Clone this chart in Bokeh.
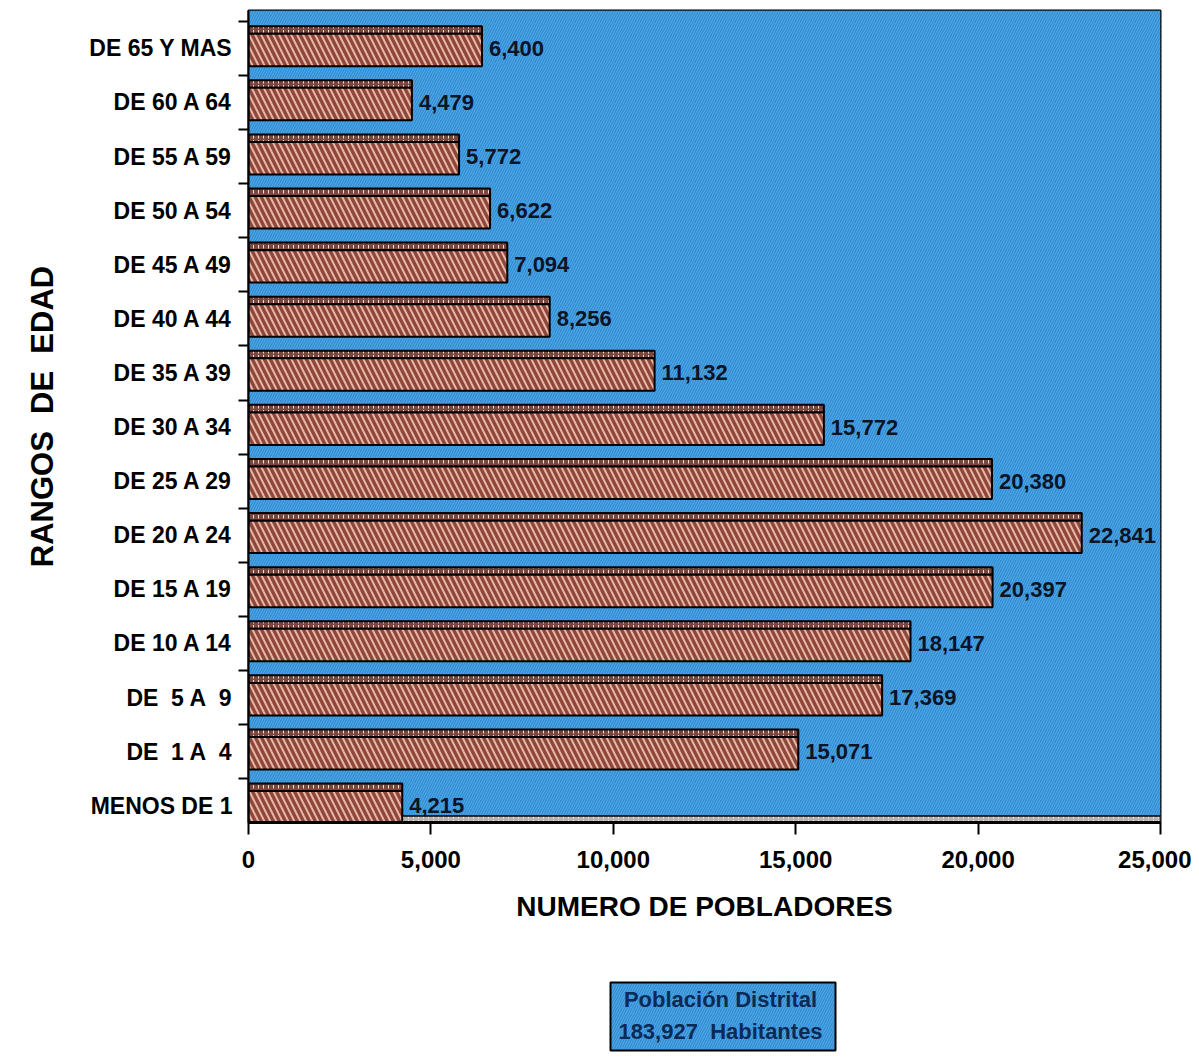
from bokeh.plotting import figure
from bokeh.layouts import column
from bokeh.models import FixedTicker, NumeralTickFormatter, ColumnDataSource
from bokeh.core.properties import value
from bokeh.embed import file_html
from bokeh.resources import INLINE

NB = "\u00a0"
# ---- data (bottom to top) ----
categories = ["MENOS DE 1", f"DE{NB}{NB}1 A{NB}{NB}4", f"DE{NB}{NB}5 A{NB}{NB}9",
              "DE 10 A 14", "DE 15 A 19", "DE 20 A 24", "DE 25 A 29", "DE 30 A 34",
              "DE 35 A 39", "DE 40 A 44", "DE 45 A 49", "DE 50 A 54", "DE 55 A 59",
              "DE 60 A 64", "DE 65 Y MAS"]
pobladores = [4215, 15071, 17369, 18147, 20397, 22841, 20380, 15772, 11132, 8256,
              7094, 6622, 5772, 4479, 6400]
x_ticks = [0, 5000, 10000, 15000, 20000, 25000]
legend_line1 = "Población Distrital"
legend_line2 = f"183,927{NB}{NB}Habitantes"

FONT = "Liberation Sans"
BLUE = "#2f8ed6"
pos = list(range(len(categories)))
labels = [f"{v:,}" for v in pobladores]

src = ColumnDataSource(dict(
    y=pos, v=pobladores, lab=labels,
    body_b=[i - 0.33 for i in pos], body_t=[i + 0.27 for i in pos],
    top_t=[i + 0.41 for i in pos],
))

W = 1191
H_MAIN = 965
H_LEG = 88
FR_L, FR_R, FR_T, FR_B = 248, 1160, 10, 822

p = figure(width=W, height=H_MAIN, output_backend="svg", toolbar_location=None,
           x_range=(0, 25000), y_range=(-0.31, 14.70),
           min_border_left=FR_L, min_border_right=W - FR_R, min_border_top=FR_T,
           min_border_bottom=H_MAIN - FR_B)
p.background_fill_color = BLUE
p.border_fill_color = "white"
p.outline_line_color = "black"
p.outline_line_width = 2
p.grid.visible = False

# hatched blue background texture
p.quad(left=[0], right=[25000], bottom=[-0.31], top=[14.70],
       fill_color=BLUE, line_color=None,
       hatch_pattern="/", hatch_color="#8ccaf2", hatch_alpha=0.45,
       hatch_scale=5, hatch_weight=1)
# 3D floor strip
p.quad(left=[0], right=[25000], bottom=[-0.31], top=[-0.19],
       fill_color="#b9b0b0", line_color="black", line_width=1.5,
       hatch_pattern=":", hatch_color="white", hatch_alpha=0.8, hatch_scale=5)

# 3D top strip of bars
p.quad(left=0, right="v", bottom="body_t", top="top_t", source=src,
       fill_color="#7a463d", line_color="black", line_width=2,
       hatch_pattern=":", hatch_color="#f6e6de", hatch_alpha=0.95, hatch_scale=5)
# bar body
p.quad(left=0, right="v", bottom="body_b", top="body_t", source=src,
       fill_color="#8f463b", line_color="black", line_width=2,
       hatch_pattern="\\", hatch_color="#ecbcab", hatch_alpha=0.95,
       hatch_scale=12, hatch_weight=2)

# value labels
p.text(x="v", y="y", text="lab", source=src, x_offset=7,
       text_font=value(FONT), text_font_size="22px", text_color="#0c1426",
       text_font_style="bold", text_baseline="middle", text_align="left")

# axes
p.xaxis.ticker = FixedTicker(ticks=x_ticks)
p.xaxis.formatter = NumeralTickFormatter(format="0,0")
p.xaxis.major_label_text_font = FONT
p.xaxis.major_label_text_font_style = "bold"
p.xaxis.major_label_text_font_size = "24px"
p.xaxis.major_label_text_color = "black"
p.xaxis.major_label_standoff = 16
p.xaxis.major_tick_out = 12
p.xaxis.major_tick_in = 0
p.xaxis.major_tick_line_width = 2
p.xaxis.minor_tick_line_color = None
p.xaxis.axis_line_width = 3
p.xaxis.axis_label = "NUMERO DE POBLADORES"
p.xaxis.axis_label_text_font = FONT
p.xaxis.axis_label_text_font_style = "bold"
p.xaxis.axis_label_text_font_size = "28px"
p.xaxis.axis_label_text_color = "black"
p.xaxis.axis_label_standoff = 20

bounds = [i - 0.5 for i in range(len(categories) + 1)]
p.yaxis.ticker = FixedTicker(ticks=pos, minor_ticks=bounds)
p.yaxis.major_label_overrides = {i: c for i, c in enumerate(categories)}
p.yaxis.major_label_text_font = FONT
p.yaxis.major_label_text_font_style = "bold"
p.yaxis.major_label_text_font_size = "23px"
p.yaxis.major_label_text_color = "black"
p.yaxis.major_label_standoff = 6
p.yaxis.major_tick_out = 0
p.yaxis.major_tick_in = 0
p.yaxis.minor_tick_out = 10
p.yaxis.minor_tick_in = 0
p.yaxis.minor_tick_line_width = 2
p.yaxis.axis_line_width = 2
p.yaxis.axis_label = f"RANGOS{NB}{NB}DE{NB}{NB}EDAD"
p.yaxis.axis_label_text_font = FONT
p.yaxis.axis_label_text_font_style = "bold"
p.yaxis.axis_label_text_font_size = "31px"
p.yaxis.axis_label_text_color = "black"
p.yaxis.axis_label_standoff = 26

# legend box figure below the chart; its frame is aligned with the main frame,
# so the x range is given in page pixels of that frame
leg = figure(width=W, height=H_LEG, output_backend="svg", toolbar_location=None,
             x_range=(FR_L, FR_R), y_range=(0, H_LEG), min_border=0,
             min_border_left=FR_L, min_border_right=W - FR_R)
leg.axis.visible = False
leg.grid.visible = False
leg.outline_line_color = None
leg.background_fill_color = "white"
leg.border_fill_color = "white"
leg.quad(left=[610], right=[835], bottom=[3], top=[71],
         fill_color=BLUE, line_color="black", line_width=2,
         hatch_pattern="/", hatch_color="#8ccaf2", hatch_alpha=0.45, hatch_scale=5)
leg.text(x=[720, 720], y=[54, 22], text=[legend_line1, legend_line2],
         text_font=value(FONT), text_font_style="bold", text_font_size="22px",
         text_color="#0b2a55", text_align="center", text_baseline="middle")

layout = column(p, leg, spacing=0)
open("out.html", "w").write(file_html(layout, INLINE))
